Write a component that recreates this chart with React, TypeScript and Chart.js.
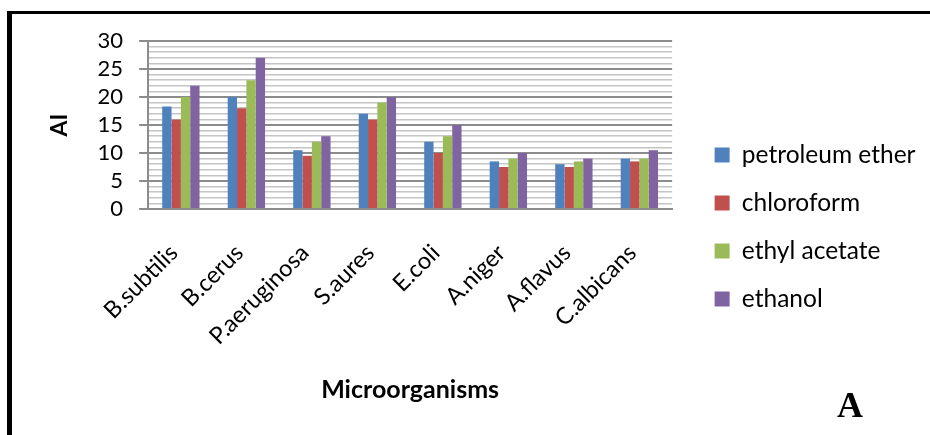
import React, { useEffect, useRef } from "react";
import { Chart, registerables } from "chart.js";

Chart.register(...registerables);

const categories = ["B.subtilis", "B.cerus", "P.aeruginosa", "S.aures", "E.coli", "A.niger", "A.flavus", "C.albicans"];
const seriesNames = ["petroleum ether", "chloroform", "ethyl acetate", "ethanol"];
const petroleumEther = [18.3, 20, 10.5, 17, 12, 8.5, 8, 9];
const chloroform = [16, 18, 9.5, 16, 10, 7.5, 7.5, 8.5];
const ethylAcetate = [20, 23, 12, 19, 13, 9, 8.5, 9];
const ethanol = [22, 27, 13, 20, 15, 10, 9, 10.5];
const seriesColors = ["#4F81BD", "#C0504D", "#9BBB59", "#8064A2"];
const yMin = 0;
const yMax = 30;
const yMajorStep = 5;
const yTitle = "AI";
const xTitle = "Microorganisms";
const panelLetter = "A";

const FONT = "Lato";

const annotations = {
  id: "annotations",
  afterDraw(chart: any) {
    const { ctx, chartArea } = chart;
    ctx.save();
    ctx.fillStyle = "#000";
    ctx.textAlign = "center";
    ctx.textBaseline = "alphabetic";
    ctx.font = `bold 25px ${FONT}`;
    ctx.fillText(xTitle, (chartArea.left + chartArea.right) / 2, 398);
    ctx.font = `bold 36px "Liberation Serif"`;
    ctx.fillText(panelLetter, 850, 417);
    ctx.restore();
  },
};

export default function App() {
  const ref = useRef<HTMLCanvasElement | null>(null);

  useEffect(() => {
    if (!ref.current) return;
    const values = [petroleumEther, chloroform, ethylAcetate, ethanol];
    const chart = new Chart(ref.current, {
      type: "bar",
      data: {
        labels: categories,
        datasets: seriesNames.map((name, i) => ({
          label: name,
          data: values[i],
          backgroundColor: seriesColors[i],
          borderWidth: 0,
          barPercentage: 1,
          categoryPercentage: 0.57,
        })),
      },
      plugins: [annotations],
      options: {
        responsive: false,
        animation: false,
        layout: { padding: { left: 46, right: 4.5, top: 19, bottom: 0 } },
        plugins: {
          tooltip: { enabled: false },
          legend: {
            position: "right",
            maxWidth: 320,
            labels: {
              boxWidth: 15,
              boxHeight: 15,
              padding: 23.5,
              color: "#000",
              font: { family: FONT, size: 24.5 },
            },
          },
        },
        scales: {
          xT: {
            type: "category",
            axis: "x",
            position: "top",
            display: true,
            grid: { display: false },
            border: { display: false },
            ticks: { display: false },
            afterFit: (s: any) => {
              s.height = 22;
            },
          },
          x: {
            grid: { display: false },
            border: { display: true, color: "#8c8c8c", width: 2 },
            ticks: {
              color: "#000",
              font: { family: FONT, size: 23.5 },
              maxRotation: 45,
              minRotation: 45,
              padding: 22,
              labelOffset: -7,
              autoSkip: false,
            },
            afterFit: (s: any) => {
              s.height = 226;
            },
          },
          y: {
            min: yMin,
            max: yMax,
            border: { display: true, color: "#8c8c8c", width: 2 },
            grid: {
              color: (c: any) => (c.tick && c.tick.value % yMajorStep === 0 ? "#8c8c8c" : "#c4c4c4"),
              lineWidth: (c: any) => (c.tick && c.tick.value % yMajorStep === 0 ? 2 : 1.5),
              tickColor: (c: any) => (c.tick && c.tick.value % yMajorStep === 0 ? "#8c8c8c" : "rgba(0,0,0,0)"),
              tickLength: 9,
            },
            ticks: {
              stepSize: 1,
              autoSkip: false,
              color: "#000",
              padding: 16,
              font: { family: FONT, size: 22 },
              callback: (v: any) => (Number(v) % yMajorStep === 0 ? String(v) : ""),
            },
            title: {
              display: true,
              text: yTitle,
              color: "#000",
              font: { family: FONT, size: 23, weight: "bold" },
              padding: { top: 0, bottom: 8 },
            },
          },
          yR: {
            type: "linear",
            axis: "y",
            position: "right",
            display: true,
            grid: { display: false },
            border: { display: false },
            ticks: { display: false },
            afterFit: (s: any) => {
              s.width = 19;
            },
          },
        },
      },
    } as any);
    return () => chart.destroy();
  }, []);

  return (
    <div style={{ position: "absolute", left: 0, top: 0, width: 930, height: 435, background: "#fff", overflow: "hidden" }}>
      <div
        style={{
          position: "absolute",
          left: 7,
          top: 11,
          width: 940,
          height: 440,
          borderTop: "3px solid #000",
          borderLeft: "5px solid #000",
          boxSizing: "border-box",
        }}
      />
      <canvas ref={ref} width={930} height={435} style={{ position: "absolute", left: 0, top: 0 }} />
    </div>
  );
}
